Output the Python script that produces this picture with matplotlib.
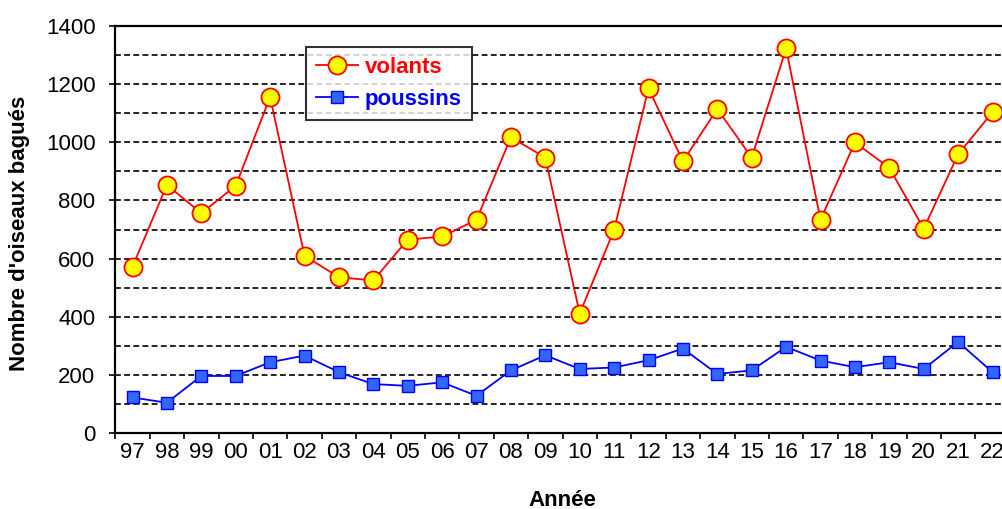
import matplotlib
matplotlib.use('Agg')
import matplotlib.pyplot as plt
from matplotlib.ticker import FixedLocator, MultipleLocator

years = ['97', '98', '99', '00', '01', '02', '03', '04', '05', '06', '07', '08', '09',
         '10', '11', '12', '13', '14', '15', '16', '17', '18', '19', '20', '21', '22']
volants = [572, 853, 756, 850, 1155, 610, 536, 525, 665, 676, 733, 1017, 947,
           411, 699, 1185, 934, 1114, 947, 1322, 733, 999, 912, 703, 958, 1103]
poussins = [123, 105, 197, 197, 244, 267, 210, 169, 163, 175, 129, 216, 268,
            221, 226, 251, 291, 204, 216, 297, 250, 227, 244, 221, 314, 210]

plt.rcParams['font.family'] = ['Liberation Sans', 'DejaVu Sans']

W, H = 1003, 509
fig = plt.figure(figsize=(W / 100, H / 100), dpi=100)
left, right, top, bottom = 115.3, 1009.7, 25.7, 433.3
ax = fig.add_axes([left / W, (H - bottom) / H, (right - left) / W, (bottom - top) / H])

x = list(range(len(years)))

ax.set_xlim(-0.5, len(years) - 0.5)
ax.set_ylim(0, 1400)

# grid lines
for v in range(100, 1400, 100):
    ax.axhline(v, color='black', lw=1.2, ls=(0, (3.5, 2)), zorder=1)

ax.plot(x, volants, color='#FF0000', lw=1.3, marker='o', markersize=13,
        markerfacecolor='#FFFF00', markeredgecolor='#FF0000', markeredgewidth=1.3,
        label='volants', zorder=3)
ax.plot(x, poussins, color='#0000FF', lw=1.3, marker='s', markersize=8.5,
        markerfacecolor='#3366FF', markeredgecolor='#0000FF', markeredgewidth=1.0,
        label='poussins', zorder=3)

# ticks
ax.yaxis.set_major_locator(MultipleLocator(200))
ax.tick_params(axis='y', which='major', direction='out', length=4.3, width=1.2,
               pad=10, labelsize=16)
ax.set_xticks(x)
ax.set_xticklabels(years)
ax.xaxis.set_minor_locator(FixedLocator([i - 0.5 for i in range(len(years) + 1)]))
ax.tick_params(axis='x', which='major', length=0, pad=6, labelsize=16)
ax.tick_params(axis='x', which='minor', direction='out', length=4.3, width=1.2)

for s in ['left', 'bottom', 'top', 'right']:
    ax.spines[s].set_linewidth(1.6)
    ax.spines[s].set_color('black')

ax.set_ylabel("Nombre d'oiseaux bagués", fontsize=16, fontweight='bold', va='center')
ax.yaxis.set_label_coords(-0.1066, 0.49)
ax.set_xlabel('Année', fontsize=16, fontweight='bold', va='center')
ax.xaxis.set_label_coords(0.5, -0.164)

leg = ax.legend(loc='upper left', bbox_to_anchor=(305.7 / W, 1 - 46.7 / H),
                bbox_transform=fig.transFigure, borderaxespad=0,
                fontsize=16, frameon=True, fancybox=False, handlelength=1.9,
                handletextpad=0.3, labelspacing=0.5, borderpad=0.45)
leg.get_frame().set_edgecolor('black')
leg.get_frame().set_linewidth(1.5)
for txt, col in zip(leg.get_texts(), ['#FF0000', '#0000FF']):
    txt.set_color(col)
    txt.set_fontweight('bold')

fig.savefig('out.png', dpi=100)
